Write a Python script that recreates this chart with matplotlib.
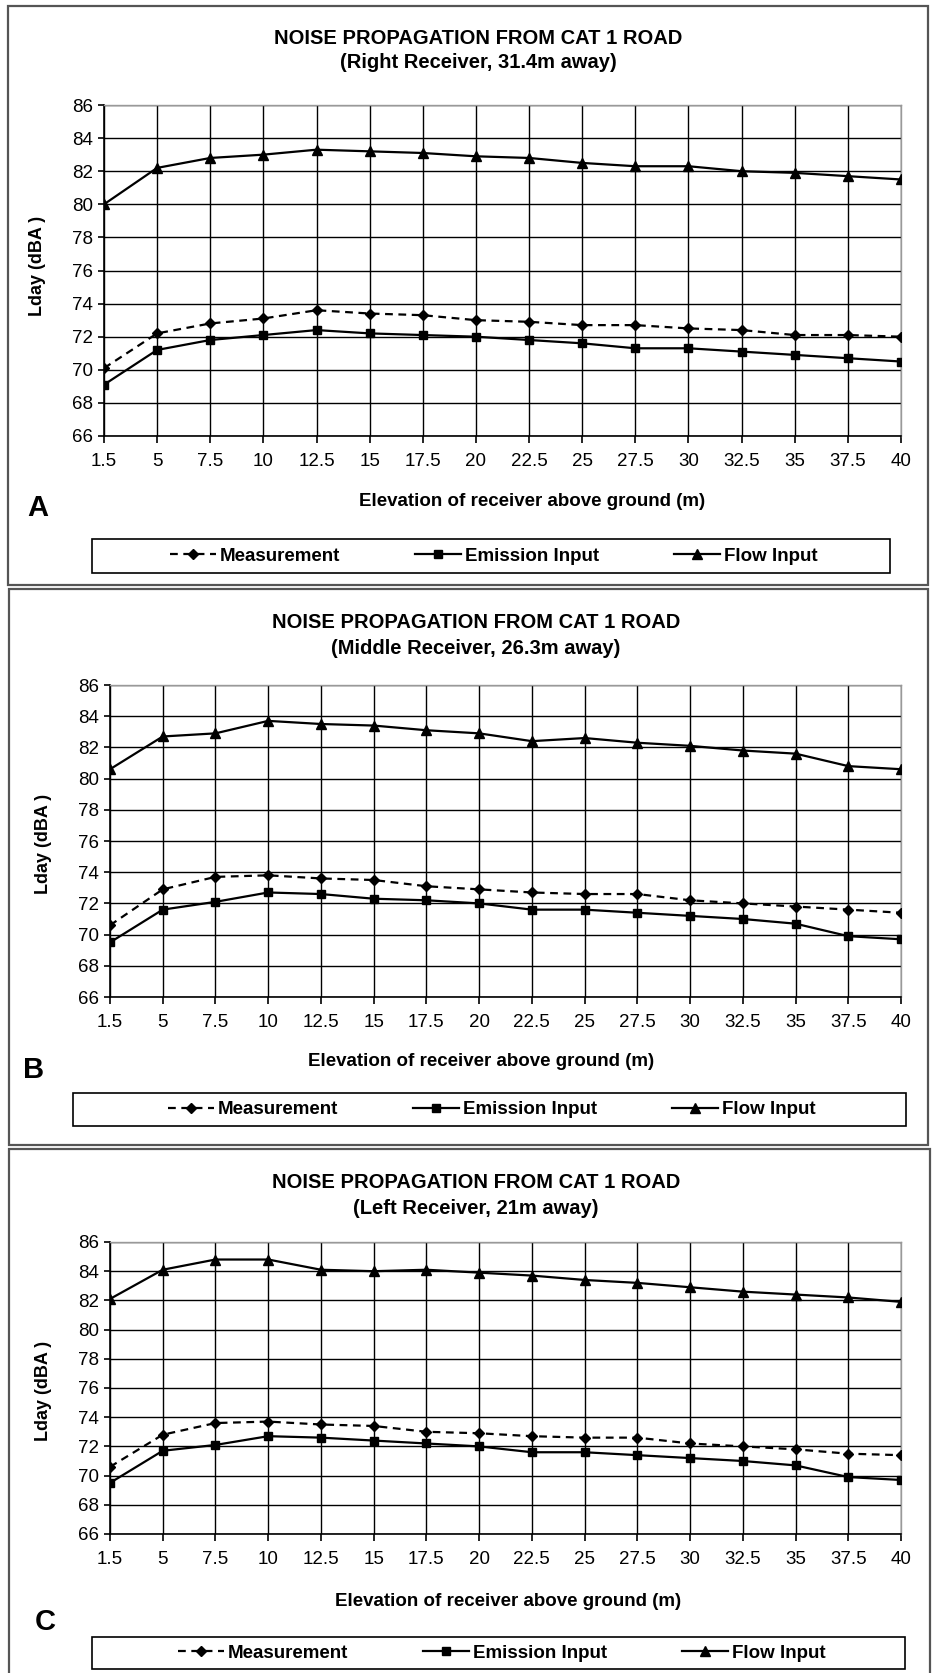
import matplotlib
matplotlib.use("Agg")
import matplotlib.pyplot as plt
from matplotlib.lines import Line2D
from matplotlib.patches import Rectangle

plt.rcParams['font.family'] = ['Liberation Sans', 'DejaVu Sans']

# ---------------- data ----------------
elevations = ["1.5", "5", "7.5", "10", "12.5", "15", "17.5", "20", "22.5",
              "25", "27.5", "30", "32.5", "35", "37.5", "40"]

titles = ["(Right Receiver, 31.4m away)",
          "(Middle Receiver, 26.3m away)",
          "(Left Receiver, 21m away)"]
main_title = "NOISE PROPAGATION FROM CAT 1 ROAD"
panel_letters = ["A", "B", "C"]
series_names = ["Measurement", "Emission Input", "Flow Input"]

meas_A = [70.1, 72.2, 72.8, 73.1, 73.6, 73.4, 73.3, 73.0, 72.9, 72.7, 72.7, 72.5, 72.4, 72.1, 72.1, 72.0]
emis_A = [69.1, 71.2, 71.8, 72.1, 72.4, 72.2, 72.1, 72.0, 71.8, 71.6, 71.3, 71.3, 71.1, 70.9, 70.7, 70.5]
flow_A = [80.0, 82.2, 82.8, 83.0, 83.3, 83.2, 83.1, 82.9, 82.8, 82.5, 82.3, 82.3, 82.0, 81.9, 81.7, 81.5]

meas_B = [70.6, 72.9, 73.7, 73.8, 73.6, 73.5, 73.1, 72.9, 72.7, 72.6, 72.6, 72.2, 72.0, 71.8, 71.6, 71.4]
emis_B = [69.5, 71.6, 72.1, 72.7, 72.6, 72.3, 72.2, 72.0, 71.6, 71.6, 71.4, 71.2, 71.0, 70.7, 69.9, 69.7]
flow_B = [80.6, 82.7, 82.9, 83.7, 83.5, 83.4, 83.1, 82.9, 82.4, 82.6, 82.3, 82.1, 81.8, 81.6, 80.8, 80.6]

meas_C = [70.6, 72.8, 73.6, 73.7, 73.5, 73.4, 73.0, 72.9, 72.7, 72.6, 72.6, 72.2, 72.0, 71.8, 71.5, 71.4]
emis_C = [69.5, 71.7, 72.1, 72.7, 72.6, 72.4, 72.2, 72.0, 71.6, 71.6, 71.4, 71.2, 71.0, 70.7, 69.9, 69.7]
flow_C = [82.1, 84.1, 84.8, 84.8, 84.1, 84.0, 84.1, 83.9, 83.7, 83.4, 83.2, 82.9, 82.6, 82.4, 82.2, 81.9]

y_ticks = [66, 68, 70, 72, 74, 76, 78, 80, 82, 84, 86]

# ---------------- layout (pixels) ----------------
W, H = 934, 1673
fig = plt.figure(figsize=(W / 100, H / 100), dpi=100)

def fx(x):
    return x / W

def fy(y):
    return 1 - y / H

panels = [
    dict(border=(8, 6, 928, 585), axes=(104, 105, 901, 436),
         t1=39, t2=63, tx=478, xl=(532, 502), yl=(38, 266), let=(38, 508),
         leg=(92, 539, 890, 573), legc=494, data=(meas_A, emis_A, flow_A)),
    dict(border=(9, 589, 928, 1145), axes=(110, 685, 901, 997),
         t1=622, t2=648, tx=476, xl=(481, 1062), yl=(44, 844), let=(34, 1070),
         leg=(73, 1093, 906, 1126), legc=492, data=(meas_B, emis_B, flow_B)),
    dict(border=(9, 1149, 930, 1690), axes=(110, 1242, 901, 1534),
         t1=1182, t2=1208, tx=476, xl=(508, 1602), yl=(44, 1391), let=(45, 1622),
         leg=(92, 1637, 905, 1669), legc=502, data=(meas_C, emis_C, flow_C)),
]

x_pos = list(range(len(elevations)))
dash = (0, (3.5, 2.5))

for i, p in enumerate(panels):
    bx0, by0, bx1, by1 = p['border']
    fig.patches.append(Rectangle((fx(bx0), fy(by1)), fx(bx1 - bx0), (by1 - by0) / H,
                                 transform=fig.transFigure, fill=False,
                                 edgecolor='#555555', linewidth=1.6, zorder=0))
    ax0, ay0, ax1, ay1 = p['axes']
    ax = fig.add_axes([fx(ax0), fy(ay1), (ax1 - ax0) / W, (ay1 - ay0) / H])
    meas, emis, flow = p['data']
    ax.plot(x_pos, meas, color='black', lw=1.6, ls=dash,
            marker='D', ms=5, label=series_names[0], zorder=4)
    ax.plot(x_pos, emis, color='black', lw=1.6, ls='-',
            marker='s', ms=6, label=series_names[1], zorder=4)
    ax.plot(x_pos, flow, color='black', lw=1.6, ls='-',
            marker='^', ms=7, label=series_names[2], zorder=4)
    ax.set_xlim(0, len(elevations) - 1)
    ax.set_ylim(66, 86)
    ax.set_yticks(y_ticks)
    ax.set_yticklabels([str(v) for v in y_ticks])
    ax.set_xticks(x_pos)
    ax.set_xticklabels(elevations)
    ax.grid(True, color='black', lw=1.0, zorder=1)
    ax.set_axisbelow(True)
    for s in ['top', 'right']:
        ax.spines[s].set_color('#999999')
        ax.spines[s].set_linewidth(1.0)
    for s in ['left', 'bottom']:
        ax.spines[s].set_color('black')
        ax.spines[s].set_linewidth(1.2)
    ax.tick_params(axis='y', direction='out', length=4, width=1.2, pad=4,
                   labelsize=13.5)
    ax.tick_params(axis='x', direction='out', length=5, width=1.2, pad=7,
                   labelsize=13.5)

    # titles and labels
    fig.text(fx(p['tx']), fy(p['t1']), main_title, ha='center', va='center',
             fontsize=14.5, fontweight='bold')
    fig.text(fx(p['tx']), fy(p['t2']), titles[i], ha='center', va='center',
             fontsize=14.5, fontweight='bold')
    fig.text(fx(p['xl'][0]), fy(p['xl'][1]), "Elevation of receiver above ground (m)",
             ha='center', va='center', fontsize=13.5, fontweight='bold')
    fig.text(fx(p['yl'][0]), fy(p['yl'][1]), "Lday (dBA )", rotation=90,
             ha='center', va='center', fontsize=13, fontweight='bold')
    fig.text(fx(p['let'][0]), fy(p['let'][1]), panel_letters[i],
             ha='center', va='center', fontsize=21, fontweight='bold')

    # legend box + entries
    lx0, ly0, lx1, ly1 = p['leg']
    fig.patches.append(Rectangle((fx(lx0), fy(ly1)), fx(lx1 - lx0), (ly1 - ly0) / H,
                                 transform=fig.transFigure, fill=False,
                                 edgecolor='black', linewidth=1.2, zorder=2))
    handles = [
        Line2D([], [], color='black', lw=1.6, ls=dash, marker='D', ms=5),
        Line2D([], [], color='black', lw=1.6, ls='-', marker='s', ms=6),
        Line2D([], [], color='black', lw=1.6, ls='-', marker='^', ms=7),
    ]
    fig.legend(handles, series_names, loc='center', ncol=3,
               bbox_to_anchor=(fx(p['legc']), fy((ly0 + ly1) / 2)),
               bbox_transform=fig.transFigure, frameon=False,
               borderaxespad=0, borderpad=0, columnspacing=4.0,
               handlelength=2.45, handletextpad=0.2, numpoints=1,
               prop={'weight': 'bold', 'size': 13.5})

fig.savefig("out.png", dpi=100)
